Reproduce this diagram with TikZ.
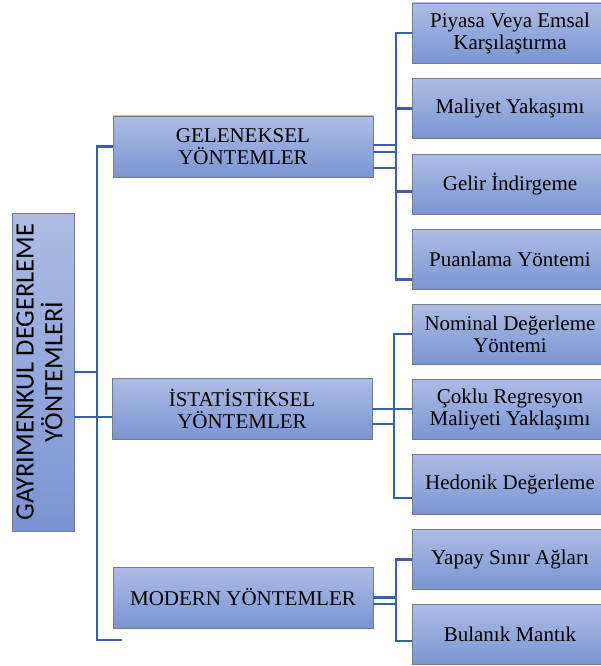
\documentclass[tikz,border=0pt]{standalone}
\usepackage{fontspec}
\setmainfont{Liberation Serif}
\newfontfamily\rootfont{Carlito}
\usepackage{graphicx}

\definecolor{boxtop}{RGB}{174,188,228}
\definecolor{boxbot}{RGB}{122,148,211}
\definecolor{boxline}{RGB}{120,122,132}
\definecolor{linkblue}{RGB}{58,95,172}

\tikzset{
  rootbox/.style={draw=boxline, top color=boxtop, bottom color=boxbot,
    minimum width=62pt, minimum height=318pt, inner sep=0pt,
    font=\rootfont\fontsize{26.5}{23.5}\selectfont},
  mainbox/.style={draw=boxline, top color=boxtop, bottom color=boxbot,
    minimum width=260pt, minimum height=61pt, inner sep=0pt, align=center,
    font=\fontsize{21}{22}\selectfont},
  leafbox/.style={draw=boxline, top color=boxtop, bottom color=boxbot,
    minimum width=196pt, minimum height=60pt, inner sep=0pt, align=center,
    font=\fontsize{21}{22}\selectfont},
  link/.style={draw=linkblue, line width=2.7pt}
}

\begin{document}
\begin{tikzpicture}[x=1pt,y=-1pt]
\useasboundingbox (0,0) rectangle (600,666);
% root
\node[rootbox] (root) at (43,372)
  {\rotatebox{90}{\begin{tabular}{@{}c@{}}GAYRIMENKUL DEGERLEME\\YÖNTEMLERİ\end{tabular}}};
% second level
\node[mainbox] (gel) at (243,146.5) {GELENEKSEL\\YÖNTEMLER};
\node[mainbox] (stat) at (242,409) {İSTATİSTİKSEL\\YÖNTEMLER};
\node[mainbox] (mod) at (243,597.5) {MODERN YÖNTEMLER};
% leaves
\node[leafbox] (piy) at (510,33) {Piyasa Veya Emsal\\Karşılaştırma};
\node[leafbox] (mal) at (510,108.5) {Maliyet Yakaşımı};
\node[leafbox] (gir) at (510,184.5) {Gelir İndirgeme};
\node[leafbox] (pua) at (510,259.5) {Puanlama Yöntemi};
\node[leafbox] (nom) at (510,334) {Nominal Değerleme\\Yöntemi};
\node[leafbox] (cok) at (510,409) {Çoklu Regresyon\\Maliyeti Yaklaşımı};
\node[leafbox] (hed) at (510,484) {Hedonik Değerleme};
\node[leafbox] (yap) at (510,559.5) {Yapay Sınır Ağları};
\node[leafbox] (bul) at (510,634.5) {Bulanık Mantık};

% trunk from the root
\coordinate (trunk) at (97,0);
\coordinate (modend) at (122,640);
\draw[link] (gel.west) -- (gel.west -| trunk) -- (trunk |- modend) -- (modend);
\draw[link] (root.east) -- (root.east -| trunk);
\draw[link] ([yshift=-45pt]root.east) -- ([yshift=-45pt]root.east -| stat.west);

% geleneksel group
\coordinate (busa) at (396,0);
\draw[link] (piy.west) -- (piy.west -| busa) -- ([yshift=-20pt]pua.west -| busa) -- ([yshift=-20pt]pua.west);
\draw[link] (mal.west) -- (mal.west -| busa);
\draw[link] ([yshift=-7pt]gir.west) -- ([yshift=-7pt]gir.west -| busa);
\foreach \dy in {1.5,-5.5,-21.5}
  \draw[link] ([yshift=\dy pt]gel.east) -- ([yshift=\dy pt]gel.east -| busa);

% istatistiksel group
\coordinate (busb) at (394,0);
\draw[link] (nom.west) -- (nom.west -| busb) -- ([yshift=-14pt]hed.west -| busb) -- ([yshift=-14pt]hed.west);
\draw[link] (stat.east) -- (cok.west);
\draw[link] ([yshift=-15pt]stat.east) -- ([yshift=-15pt]stat.east -| busb);

% modern group
\coordinate (busc) at (396,0);
\draw[link] (yap.west) -- (yap.west -| busc) -- ([yshift=-6.5pt]bul.west -| busc) -- ([yshift=-6.5pt]bul.west);
\foreach \dy in {0,-6.5}
  \draw[link] ([yshift=\dy pt]mod.east) -- ([yshift=\dy pt]mod.east -| busc);
\end{tikzpicture}
\end{document}
